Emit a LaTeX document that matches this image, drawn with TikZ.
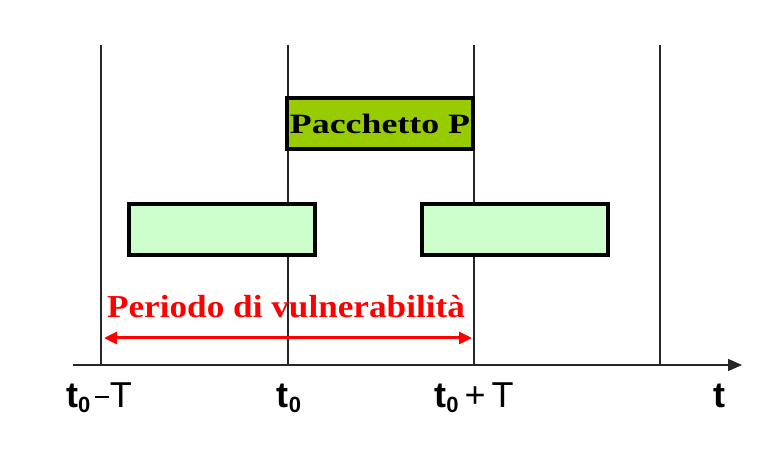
\documentclass[tikz,border=0pt]{standalone}
\usepackage{fontspec}
\setmainfont{Liberation Serif}
\newfontfamily\labelfont{Liberation Sans}
\usetikzlibrary{arrows.meta}
\definecolor{pgreen}{HTML}{99CC00}
\definecolor{lgreen}{HTML}{CCFFCC}
\definecolor{vred}{HTML}{FF0000}
\newcommand{\tzero}{\textbf{t}\raisebox{-5pt}{\fontsize{22}{23}\selectfont\bfseries 0}}
\newcommand{\labdash}{\hspace{5pt}\rule[9pt]{14pt}{2.5pt}\hspace{0.5pt}}
\tikzset{
  vline/.style={line width=1.5pt, draw=black!85},
  slot/.style={draw=black, line width=4pt, fill=lgreen, minimum width=186pt, minimum height=51pt, inner sep=0pt},
  pkt/.style={draw=black, line width=4pt, fill=pgreen, minimum width=186pt, minimum height=51pt, inner sep=0pt},
  axislabel/.style={font=\labelfont\fontsize{36}{38}\selectfont, inner sep=0pt, anchor=base},
}
\begin{document}
\begin{tikzpicture}[x=1pt,y=-1pt]
\useasboundingbox (0,0) rectangle (766,454);
% vertical time lines
\foreach \n/\x in {a/101,b/288,c/474,d/660}{
  \coordinate (\n top) at (\x,45);
  \coordinate (\n bot) at (\x,365);
  \draw[vline] (\n top) -- (\n bot);
}
% axis
\coordinate (axstart) at (73,365);
\coordinate (axend) at (742,365);
\draw[line width=1.5pt, draw=black!85, -{Triangle[length=14pt,width=12pt]}] (axstart) -- (axend);
% boxes
\node[pkt] (pkt) at (380,123.5) {\scalebox{1.28}[1]{\bfseries\fontsize{28}{30}\selectfont Pacchetto P}};
\node[slot] (slotL) at (221.5,230) {};
\node[slot] (slotR) at (515,230) {};
% vulnerability period
\draw[vred, line width=3pt, {Triangle[length=13pt,width=12pt]}-{Triangle[length=13pt,width=12pt]}] (104,338) -- (472,338);
\node[text=vred, font=\bfseries\fontsize{32}{34}\selectfont, inner sep=0pt] (per) at (286,307) {\scalebox{1.1}[1]{Periodo di vulnerabilità}};
% labels
\node[axislabel] (l1) at (99,407) {\tzero\labdash T};
\node[axislabel] (l2) at (289,407) {\tzero};
\node[axislabel] (l3) at (474,407) {\tzero\,+\,T};
\node[axislabel] (l4) at (719,407) {\textbf{t}};
\end{tikzpicture}
\end{document}
